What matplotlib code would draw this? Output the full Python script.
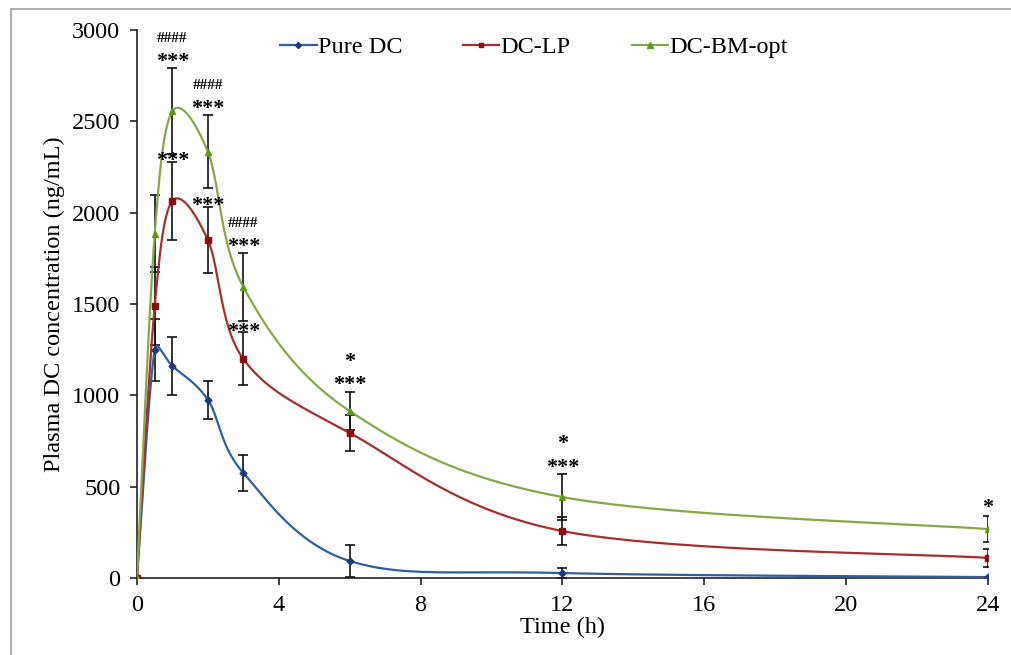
import numpy as np
import matplotlib
matplotlib.use("Agg")
import matplotlib.pyplot as plt
from matplotlib.lines import Line2D

plt.rcParams['font.family'] = ['Liberation Serif', 'DejaVu Serif']

time_h = [0, 0.5, 1, 2, 3, 6, 12, 24]

pure_dc = [0, 1250, 1160, 975, 575, 93, 27, 5]
pure_dc_sd = [0, 170, 160, 105, 100, 85, 25, 0]

dc_lp = [0, 1490, 2064, 1850, 1199, 794, 257, 110]
dc_lp_sd = [0, 215, 215, 180, 145, 100, 75, 50]

dc_bm = [0, 1884, 2555, 2333, 1593, 914, 443, 268]
dc_bm_sd = [0, 210, 235, 200, 185, 105, 125, 70]

# significance marks: (time index, text)
lp_marks = [(2, "***"), (3, "***"), (4, "***")]
bm_marks = [(2, "***"), (3, "***"), (4, "***"), (5, "***"), (6, "***")]
hash_marks = [(2, "####"), (3, "####"), (4, "####")]
single_marks = [(5, "*"), (6, "*")]
end_marks = [(7, "*")]

BLUE = "#2F5FA0"
RED = "#A5302E"
GREEN = "#86A846"

XMAX, YMAX = 24, 3000
PX_X, PX_Y = 851 / XMAX, 548 / YMAX   # pixels per unit, used for the smoothing


def smooth(x, y, n=40):
    # bezier smoothing like Excel: control arm 1/6 of chord, capped at half the segment
    p = np.column_stack([np.asarray(x, float) * PX_X, np.asarray(y, float) * PX_Y])
    m = len(p)
    out = []
    for i in range(m - 1):
        p0 = p[max(i - 1, 0)]
        p1 = p[i]
        p2 = p[i + 1]
        p3 = p[min(i + 2, m - 1)]
        d12 = np.linalg.norm(p2 - p1)
        d02 = np.linalg.norm(p2 - p0)
        d13 = np.linalg.norm(p3 - p1)
        f0 = 1 / 6 if d02 / 6 < d12 / 2 else d12 / d02 / 2
        f1 = 1 / 6 if d13 / 6 < d12 / 2 else d12 / d13 / 2
        c1 = p1 + (p2 - p0) * f0
        c2 = p2 - (p3 - p1) * f1
        t = np.linspace(0, 1, n)[:, None]
        out.append((1 - t) ** 3 * p1 + 3 * (1 - t) ** 2 * t * c1
                   + 3 * (1 - t) * t ** 2 * c2 + t ** 3 * p2)
    pts = np.vstack(out)
    return pts[:, 0] / PX_X, pts[:, 1] / PX_Y


fig = plt.figure(figsize=(10.11, 6.55), dpi=100)
ax = fig.add_axes([0.1355, 0.1176, 0.8415, 0.8366])

series = [
    (pure_dc, pure_dc_sd, BLUE, "#1B3A78", "D", 3.5, "Pure DC"),
    (dc_lp, dc_lp_sd, RED, "#8B0F0F", "s", 4, "DC-LP"),
    (dc_bm, dc_bm_sd, GREEN, "#5E9A1E", "^", 4.5, "DC-BM-opt"),
]
handles = []
for vals, sd, col, mcol, mk, ms, lab in series:
    sx, sy = smooth(time_h, vals)
    ax.plot(sx, sy, color=col, lw=1.6, zorder=3)
    ax.errorbar(time_h, vals, yerr=sd, fmt="none", ecolor="#111111",
                elinewidth=1.2, capsize=3.6, capthick=1.2, zorder=2)
    ax.plot(time_h, vals, ls="none", marker=mk, ms=ms, color=mcol, zorder=4)
    handles.append(Line2D([], [], color=col, lw=1.6, marker=mk, ms=ms - 0.5,
                          mfc=mcol, mec=mcol, label=lab))

star = dict(ha="center", va="baseline", fontsize=16, fontweight="bold",
            textcoords="offset points", zorder=5)
for i, s in lp_marks:
    ax.annotate(s, (time_h[i], dc_lp[i] + dc_lp_sd[i]), xytext=(0, -3), **star)
for i, s in bm_marks:
    ax.annotate(s, (time_h[i], dc_bm[i] + dc_bm_sd[i]), xytext=(0, 1), **star)
for i, s in hash_marks:
    ax.annotate(s, (time_h[i], dc_bm[i] + dc_bm_sd[i]), xytext=(0, 19),
                ha="center", va="baseline", fontsize=11, fontweight="bold",
                textcoords="offset points", zorder=5)
for i, s in single_marks:
    ax.annotate(s, (time_h[i], dc_bm[i] + dc_bm_sd[i]), xytext=(0, 18), **star)
for i, s in end_marks:
    ax.annotate(s, (time_h[i], dc_bm[i] + dc_bm_sd[i]), xytext=(0, 2), **star)

ax.set_xlim(0, XMAX)
ax.set_ylim(0, YMAX)
ax.set_xticks(range(0, 25, 4))
ax.set_yticks(range(0, 3001, 500))
for sp in ["top", "right"]:
    ax.spines[sp].set_visible(False)
for sp in ["left", "bottom"]:
    ax.spines[sp].set_linewidth(1.2)
    ax.spines[sp].set_color("#222222")
ax.tick_params(direction="out", length=5, width=1.2, labelsize=17.5, pad=7,
               color="#222222")
ax.set_xlabel("Time (h)", fontsize=17.5, labelpad=1)
ax.set_ylabel("Plasma DC concentration (ng/mL)", fontsize=17.5, labelpad=5)

fig.legend(handles=handles, loc="center left", bbox_to_anchor=(0.265, 0.928),
           ncol=3, frameon=False, fontsize=17.5, handlelength=1.5,
           handletextpad=0.05, columnspacing=2.5, borderpad=0)

# grey frame around the picture
fig.add_artist(Line2D([0.011, 0.011], [0.0, 0.986], color="#A0A0A0", lw=1.2))
fig.add_artist(Line2D([0.011, 1.0], [0.986, 0.986], color="#A0A0A0", lw=1.2))

fig.savefig("out.png", dpi=100)
